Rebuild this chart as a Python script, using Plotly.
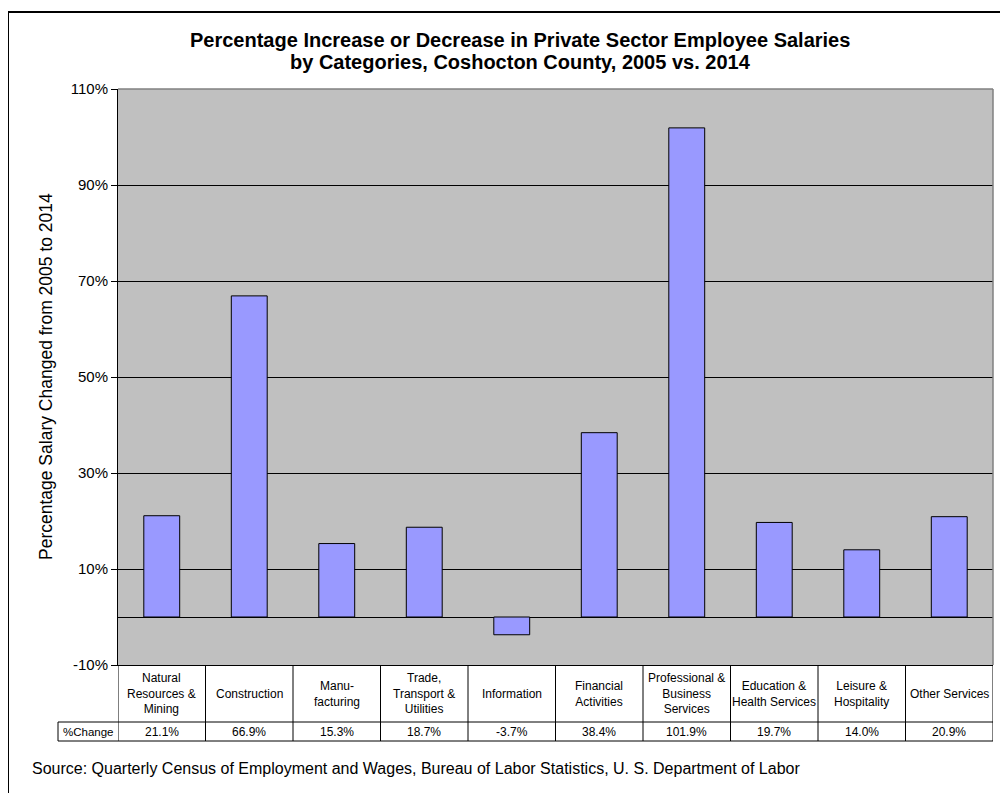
import plotly.graph_objects as go

# data
categories = ["Natural<br>Resources &<br>Mining", "Construction", "Manu-<br>facturing",
              "Trade,<br>Transport &<br>Utilities", "Information", "Financial<br>Activities",
              "Professional &<br>Business<br>Services", "Education &<br>Health Services",
              "Leisure &<br>Hospitality", "Other Services"]
pct_change = [21.1, 66.9, 15.3, 18.7, -3.7, 38.4, 101.9, 19.7, 14.0, 20.9]
y_ticks = [-10, 10, 30, 50, 70, 90, 110]

# page is offset by the 8px body margin; positions below are page pixels
OFF = 8
W, H = 1008 - OFF, 793 - OFF
L, R, T, B = 118, 993, 89, 665   # plot area in page pixels


def px(x):
    return (x - L) / (R - L)


def py(y):
    return (B - y) / (B - T)


FONT = "Liberation Sans, Arial, sans-serif"
xs = list(range(len(categories)))

fig = go.Figure()
fig.add_trace(go.Bar(x=xs, y=pct_change, marker=dict(color="#9999FF", line=dict(color="black", width=1)),
                     hoverinfo="y"))

shapes = []
ann = []
blk = dict(color="black", width=1)

# data table under the plot
row1, row2, row3 = py(665), py(722), py(741)
shapes.append(dict(type="line", xref="paper", yref="paper", x0=px(58), x1=1, y0=row2, y1=row2, line=blk))
shapes.append(dict(type="line", xref="paper", yref="paper", x0=px(58), x1=1, y0=row3, y1=row3, line=blk))
shapes.append(dict(type="line", xref="paper", yref="paper", x0=px(58), x1=px(58), y0=row2, y1=row3, line=blk))
for i in range(len(categories) + 1):
    shapes.append(dict(type="line", xref="x", yref="paper", x0=i - 0.5, x1=i - 0.5, y0=row1, y1=row3, line=blk))
for i, (c, v) in enumerate(zip(categories, pct_change)):
    ann.append(dict(x=i, y=(row1 + row2) / 2, xref="x", yref="paper", text=c, showarrow=False,
                    xanchor="center", yanchor="middle",
                    font=dict(family=FONT, size=12, color="black"), align="center"))
    ann.append(dict(x=i, y=(row2 + row3) / 2, xref="x", yref="paper", text=f"{v:.1f}%", showarrow=False,
                    xanchor="center", yanchor="middle",
                    font=dict(family=FONT, size=12, color="black")))
ann.append(dict(x=px(88), y=(row2 + row3) / 2, xref="paper", yref="paper", text="%Change",
                xanchor="center", yanchor="middle",
                showarrow=False, font=dict(family=FONT, size=11.5, color="black")))

# title, axis title and source
title_lines = ["<b>Percentage Increase or Decrease in Private Sector Employee Salaries</b>",
               "<b>by Categories, Coshocton County, 2005 vs. 2014</b>"]
for line, ypix in zip(title_lines, [40, 62]):
    ann.append(dict(x=px(520), y=py(ypix), xref="paper", yref="paper", showarrow=False,
                    xanchor="center", yanchor="middle", text=line,
                    font=dict(family=FONT, size=20, color="black")))
ann.append(dict(x=px(46), y=0.5, xref="paper", yref="paper", showarrow=False, textangle=-90,
                xanchor="center", yanchor="middle",
                text="Percentage Salary Changed from 2005 to 2014",
                font=dict(family=FONT, size=17.5, color="black")))
ann.append(dict(x=px(30), y=py(768), xref="paper", yref="paper", showarrow=False,
                xanchor="left", yanchor="middle",
                text="Source: Quarterly Census of Employment and Wages, Bureau of Labor Statistics, U. S. Department of Labor",
                font=dict(family=FONT, size=16, color="black")))

# chart border
shapes.append(dict(type="rect", xref="paper", yref="paper", x0=px(8), x1=px(1040), y0=py(12), y1=py(830),
                   line=dict(color="black", width=2), layer="above"))
# plot area border top/right (gray)
shapes.append(dict(type="line", xref="paper", yref="paper", x0=0, x1=1, y0=1, y1=1,
                   line=dict(color="#808080", width=1.5)))
shapes.append(dict(type="line", xref="paper", yref="paper", x0=1, x1=1, y0=0, y1=1,
                   line=dict(color="#808080", width=1.5)))

fig.update_layout(
    width=W, height=H,
    margin=dict(l=L - OFF, r=1008 - R, t=T - OFF, b=793 - B),
    paper_bgcolor="white", plot_bgcolor="#C0C0C0",
    bargap=0.59, showlegend=False,
    font=dict(family=FONT, color="black"),
    xaxis=dict(range=[-0.5, len(categories) - 0.5], showticklabels=False, showgrid=False,
               zeroline=False, showline=True, linecolor="black", linewidth=1, ticks=""),
    yaxis=dict(range=[-10, 110], tickvals=y_ticks, ticktext=[f"{t}%" for t in y_ticks],
               showgrid=True, gridcolor="black", gridwidth=1,
               zeroline=True, zerolinecolor="black", zerolinewidth=1,
               showline=True, linecolor="black", linewidth=1,
               ticks="outside", ticklen=6, tickcolor="black",
               tickfont=dict(family=FONT, size=15)),
    shapes=shapes, annotations=ann,
)

fig.write_html("out.html")
